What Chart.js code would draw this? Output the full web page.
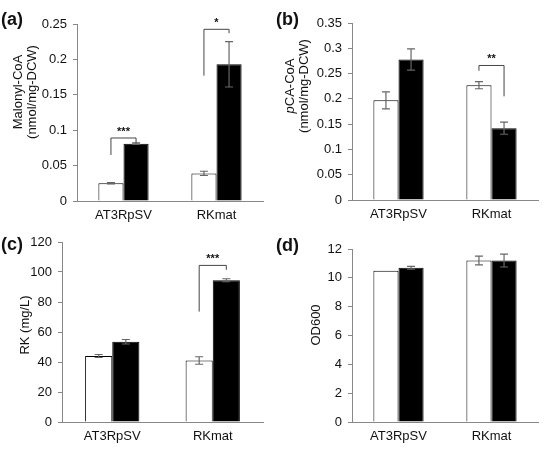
<!DOCTYPE html>
<html>
<head>
<meta charset="utf-8">
<script src="https://cdn.jsdelivr.net/npm/chart.js@4"></script>
<style>
  body { margin: 0; background: #fff; font-family: "Liberation Sans", Arial, sans-serif; }
  #wrap { position: relative; width: 550px; height: 449px; }
  .panel { position: absolute; width: 275px; height: 224px; }
  .tag { position: absolute; font-weight: bold; font-size: 18px; color: #111; }
</style>
</head>
<body>
<div id="wrap">
  <div class="panel" style="left:0;top:0"><canvas id="chartA"></canvas></div>
  <div class="panel" style="left:275px;top:0"><canvas id="chartB"></canvas></div>
  <div class="panel" style="left:0;top:225px"><canvas id="chartC"></canvas></div>
  <div class="panel" style="left:275px;top:225px"><canvas id="chartD"></canvas></div>
  <div class="tag" style="left:1px;top:9px">(a)</div>
  <div class="tag" style="left:276px;top:9px">(b)</div>
  <div class="tag" style="left:1px;top:234px">(c)</div>
  <div class="tag" style="left:276px;top:235px">(d)</div>
</div>
<script>
var categories = ["AT3RpSV", "RKmat"];

// (a) Malonyl-CoA
var malonylWhite = [0.025, 0.039];
var malonylWhiteErr = [0.001, 0.003];
var malonylBlack = [0.081, 0.193];
var malonylBlackErr = [0.001, 0.032];

// (b) pCA-CoA
var pcaWhite = [0.197, 0.227];
var pcaWhiteErr = [0.017, 0.007];
var pcaBlack = [0.278, 0.142];
var pcaBlackErr = [0.021, 0.012];

// (c) RK
var rkWhite = [44, 41];
var rkWhiteErr = [1, 2.5];
var rkBlack = [53.5, 94.5];
var rkBlackErr = [1.5, 1];

// (d) OD600
var odWhite = [10.5, 11.2];
var odWhiteErr = [0, 0.3];
var odBlack = [10.7, 11.2];
var odBlackErr = [0.1, 0.45];

// significance brackets: category, left leg bottom, top, right leg bottom, label
var malonylSig = [
  { cat: 0, left: 0.065, top: 0.089, right: 0.082, label: "***" },
  { cat: 1, left: 0.177, top: 0.2425, right: 0.237, label: "*" }
];
var pcaSig = [
  { cat: 1, left: 0.2556, top: 0.266, right: 0.205, label: "**" }
];
var rkSig = [
  { cat: 1, left: 73.6, top: 104.4, right: 101.5, label: "***" }
];

var errorBars = {
  id: "errorBars",
  afterDatasetsDraw: function (chart, args, opts) {
    var ctx = chart.ctx;
    var y = chart.scales.y;
    ctx.save();
    ctx.strokeStyle = "#666";
    ctx.lineWidth = 1.2;
    chart.data.datasets.forEach(function (ds, di) {
      var meta = chart.getDatasetMeta(di);
      meta.data.forEach(function (bar, i) {
        var err = ds.errors[i];
        if (!err) return;
        var top = y.getPixelForValue(ds.data[i] + err);
        var bot = y.getPixelForValue(ds.data[i] - err);
        ctx.beginPath();
        ctx.moveTo(bar.x, top); ctx.lineTo(bar.x, bot);
        ctx.moveTo(bar.x - 4, top); ctx.lineTo(bar.x + 4, top);
        ctx.moveTo(bar.x - 4, bot); ctx.lineTo(bar.x + 4, bot);
        ctx.stroke();
      });
    });
    ctx.restore();
  }
};

var brackets = {
  id: "brackets",
  afterDatasetsDraw: function (chart, args, opts) {
    var list = opts.items || [];
    var ctx = chart.ctx;
    var y = chart.scales.y;
    ctx.save();
    ctx.strokeStyle = "#444";
    ctx.lineWidth = 1;
    ctx.fillStyle = "#111";
    ctx.font = "bold 11px 'Liberation Sans', Arial, sans-serif";
    ctx.textAlign = "center";
    ctx.textBaseline = "bottom";
    list.forEach(function (b) {
      var x0 = chart.getDatasetMeta(0).data[b.cat].x;
      var x1 = chart.getDatasetMeta(1).data[b.cat].x;
      var yt = y.getPixelForValue(b.top);
      ctx.beginPath();
      ctx.moveTo(x0, y.getPixelForValue(b.left));
      ctx.lineTo(x0, yt);
      ctx.lineTo(x1, yt);
      ctx.lineTo(x1, y.getPixelForValue(b.right));
      ctx.stroke();
      ctx.fillText(b.label, (x0 + x1) / 2, yt - 1);
    });
    ctx.restore();
  }
};

var yTitle = {
  id: "yTitle",
  afterDraw: function (chart, args, opts) {
    var ctx = chart.ctx;
    ctx.save();
    ctx.fillStyle = "#111";
    ctx.textBaseline = "middle";
    ctx.textAlign = "left";
    var normal = "13px 'Liberation Sans', Arial, sans-serif";
    var italic = "italic 13px 'Liberation Sans', Arial, sans-serif";
    opts.lines.forEach(function (line, i) {
      var pre = line.pre || "";
      ctx.font = italic;
      var wPre = ctx.measureText(pre).width;
      ctx.font = normal;
      var w = wPre + ctx.measureText(line.text).width;
      ctx.save();
      ctx.translate(opts.x[i], opts.cy);
      ctx.rotate(-Math.PI / 2);
      ctx.font = italic;
      ctx.fillText(pre, -w / 2, 0);
      ctx.font = normal;
      ctx.fillText(line.text, -w / 2 + wPre, 0);
      ctx.restore();
    });
    ctx.restore();
  }
};

function makeChart(id, white, whiteErr, black, blackErr, yMax, step, area, title, sig) {
  return new Chart(document.getElementById(id), {
    type: "bar",
    data: {
      labels: categories,
      datasets: [
        { data: white, errors: whiteErr, backgroundColor: "#fff", borderColor: "#000", borderWidth: 1 },
        { data: black, errors: blackErr, backgroundColor: "#000", borderColor: "#000", borderWidth: 1 }
      ]
    },
    options: {
      responsive: true,
      maintainAspectRatio: false,
      animation: false,
      datasets: { bar: { categoryPercentage: 0.54, barPercentage: 1 } },
      layout: { padding: { left: 0, right: 12, top: area.top, bottom: 0 } },
      plugins: {
        legend: { display: false },
        tooltip: { enabled: false },
        yTitle: title,
        brackets: { items: sig }
      },
      scales: {
        x: {
          grid: { display: true, drawOnChartArea: false, drawTicks: false },
          border: { color: "#888" },
          ticks: { color: "#111", padding: 7, font: { size: 13, family: "'Liberation Sans', Arial, sans-serif" } },
          afterFit: function (s) { s.height = area.xh; }
        },
        y: {
          min: 0,
          max: yMax,
          grid: { drawOnChartArea: false, drawTicks: true, tickLength: 4, color: "#888" },
          border: { color: "#888" },
          ticks: {
            stepSize: step,
            color: "#111",
            padding: 6,
            font: { size: 13, family: "'Liberation Sans', Arial, sans-serif" },
            callback: function (v) { return String(Number(v.toFixed(2))); }
          },
          afterFit: function (s) { s.width = area.left; }
        }
      }
    },
    plugins: [errorBars, brackets, yTitle]
  });
}

makeChart("chartA", malonylWhite, malonylWhiteErr, malonylBlack, malonylBlackErr, 0.25, 0.05,
  { top: 24, xh: 23, left: 77 },
  { lines: [{ text: "Malonyl-CoA" }, { text: "(nmol/mg-DCW)" }], x: [18, 32], cy: 92 }, malonylSig);

makeChart("chartB", pcaWhite, pcaWhiteErr, pcaBlack, pcaBlackErr, 0.35, 0.05,
  { top: 23, xh: 24, left: 77 },
  { lines: [{ pre: "p", text: "CA-CoA" }, { text: "(nmol/mg-DCW)" }], x: [15, 29], cy: 86 }, pcaSig);

makeChart("chartC", rkWhite, rkWhiteErr, rkBlack, rkBlackErr, 120, 20,
  { top: 17, xh: 27, left: 62 },
  { lines: [{ text: "RK (mg/L)" }], x: [25], cy: 100 }, rkSig);

makeChart("chartD", odWhite, odWhiteErr, odBlack, odBlackErr, 12, 2,
  { top: 24, xh: 27, left: 77 },
  { lines: [{ text: "OD600" }], x: [41], cy: 100 }, []);
</script>
</body>
</html>
